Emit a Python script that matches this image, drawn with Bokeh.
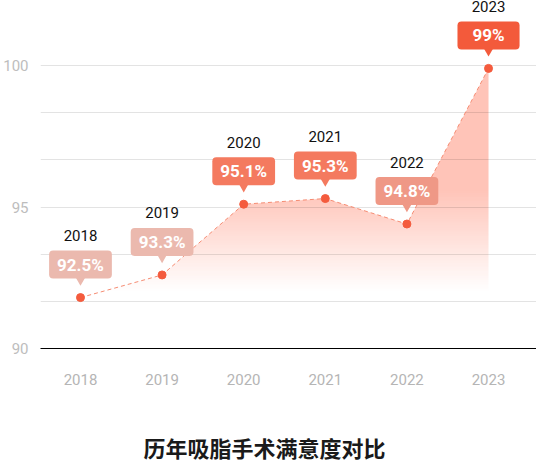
import numpy as np
from bokeh.plotting import figure
from bokeh.models import ColumnDataSource, FixedTicker, Range1d, Title
from bokeh.embed import file_html
from bokeh.resources import INLINE
from bokeh.core.properties import value

# data
years = ["2018", "2019", "2020", "2021", "2022", "2023"]
satisfaction = [91.8, 92.6, 95.1, 95.3, 94.4, 99.9]
labels = ["92.5%", "93.3%", "95.1%", "95.3%", "94.8%", "99%"]
badge_colors = ["#ebb9ae", "#ebb9ae", "#f47a5f", "#f47a5f", "#ef9886", "#f35a3b"]
y_ticks = [90, 95, 100]
y_minor = [91.667, 93.333, 96.667, 98.333]

Y_MIN, Y_MAX = 90, 102.3
X_MIN, X_MAX = -0.49, 5.588
FRAME_H = 348
ppu = FRAME_H / (Y_MAX - Y_MIN)   # pixels per percent point

xs = list(range(len(years)))

src = ColumnDataSource(dict(
    x=xs, y=satisfaction, label=labels, color=badge_colors, year=years,
    tri=[v + 17 / ppu for v in satisfaction],
))

p = figure(frame_width=496, frame_height=FRAME_H, output_backend="svg",
           toolbar_location=None,
           x_range=Range1d(X_MIN, X_MAX), y_range=Range1d(Y_MIN, Y_MAX),
           min_border_left=38, min_border_right=0, min_border_top=0,
           min_border_bottom=0, outline_line_color=None)

# gradient under the line: image + white mask above the line
n = 256
top = max(satisfaction)
img = np.zeros((n, 1), dtype=np.uint32)
view = img.view(dtype=np.uint8).reshape((n, 1, 4))
yy = np.linspace(Y_MIN, top, n)
alpha = np.clip((yy - 92.0) / (95.6 - 92.0), 0, 1)
view[:, 0, 0] = 255
view[:, 0, 1] = 196
view[:, 0, 2] = 184
view[:, 0, 3] = (alpha * 255).astype(np.uint8)
r = p.image_rgba(image=[img], x=0, y=Y_MIN, dw=len(years) - 1, dh=top - Y_MIN)
r.level = "image"
mask_x = [X_MIN, X_MIN] + xs + [X_MAX, X_MAX]
mask_y = [Y_MAX, satisfaction[0]] + satisfaction + [satisfaction[-1], Y_MAX]
mask = p.patch(mask_x, mask_y, fill_color="white", line_color=None)
mask.level = "image"

p.line("x", "y", source=src, line_color="#f58c73", line_width=1, line_dash="4 3")
p.scatter("x", "y", source=src, size=8, fill_color="#f45b3d", line_color="#f45b3d")
p.scatter("x", "tri", source=src, marker="inverted_triangle", size=9,
          fill_color="color", line_color=None)

common = dict(text_align="center", text_baseline="middle", text_color="white",
              text_font=value("Roboto"), text_font_size="17px", text_font_style="bold",
              y_offset=-33, background_fill_color="color", border_radius=4)
idx = [0, 1, 2, 3, 4]
src_a = ColumnDataSource({k: [v[i] for i in idx] for k, v in src.data.items()})
src_b = ColumnDataSource({k: [v[5]] for k, v in src.data.items()})
p.text("x", "y", text="label", source=src_a, padding=dict(x=8, y=4), **common)
p.text("x", "y", text="label", source=src_b, padding=dict(x=15, y=4), **common)

p.text("x", "y", text="year", source=src, y_offset=-62, text_align="center",
       text_baseline="middle", text_color="#111111", text_font=value("Roboto"),
       text_font_size="15px")

p.xgrid.grid_line_color = None
p.ygrid.ticker = FixedTicker(ticks=y_ticks, minor_ticks=y_minor)
p.ygrid.grid_line_color = "black"
p.ygrid.grid_line_alpha = 0.11
p.ygrid.minor_grid_line_color = "black"
p.ygrid.minor_grid_line_alpha = 0.11

p.yaxis.ticker = FixedTicker(ticks=y_ticks)
p.yaxis.axis_line_color = None
p.yaxis.major_tick_line_color = None
p.yaxis.minor_tick_line_color = None
p.yaxis.major_label_text_color = "#bdbdbd"
p.yaxis.major_label_text_font = "Roboto"
p.yaxis.major_label_text_font_size = "15px"
p.yaxis.major_label_standoff = 6

p.xaxis.ticker = FixedTicker(ticks=xs)
p.xaxis.major_label_overrides = {i: y for i, y in zip(xs, years)}
p.xaxis.axis_line_color = "black"
p.xaxis.axis_line_width = 1
p.xaxis.major_tick_line_color = None
p.xaxis.minor_tick_line_color = None
p.xaxis.major_label_text_color = "#b5b5b5"
p.xaxis.major_label_text_font = "Roboto"
p.xaxis.major_label_text_font_size = "15px"
p.xaxis.major_label_standoff = 19

p.add_layout(Title(text="历年吸脂手术满意度对比", align="left", offset=103,
                   text_font="Noto Sans CJK SC", text_font_size="22px",
                   text_font_style="bold", text_color="#1a1a1a", standoff=82), "below")

open("out.html", "w").write(file_html(p, INLINE))
